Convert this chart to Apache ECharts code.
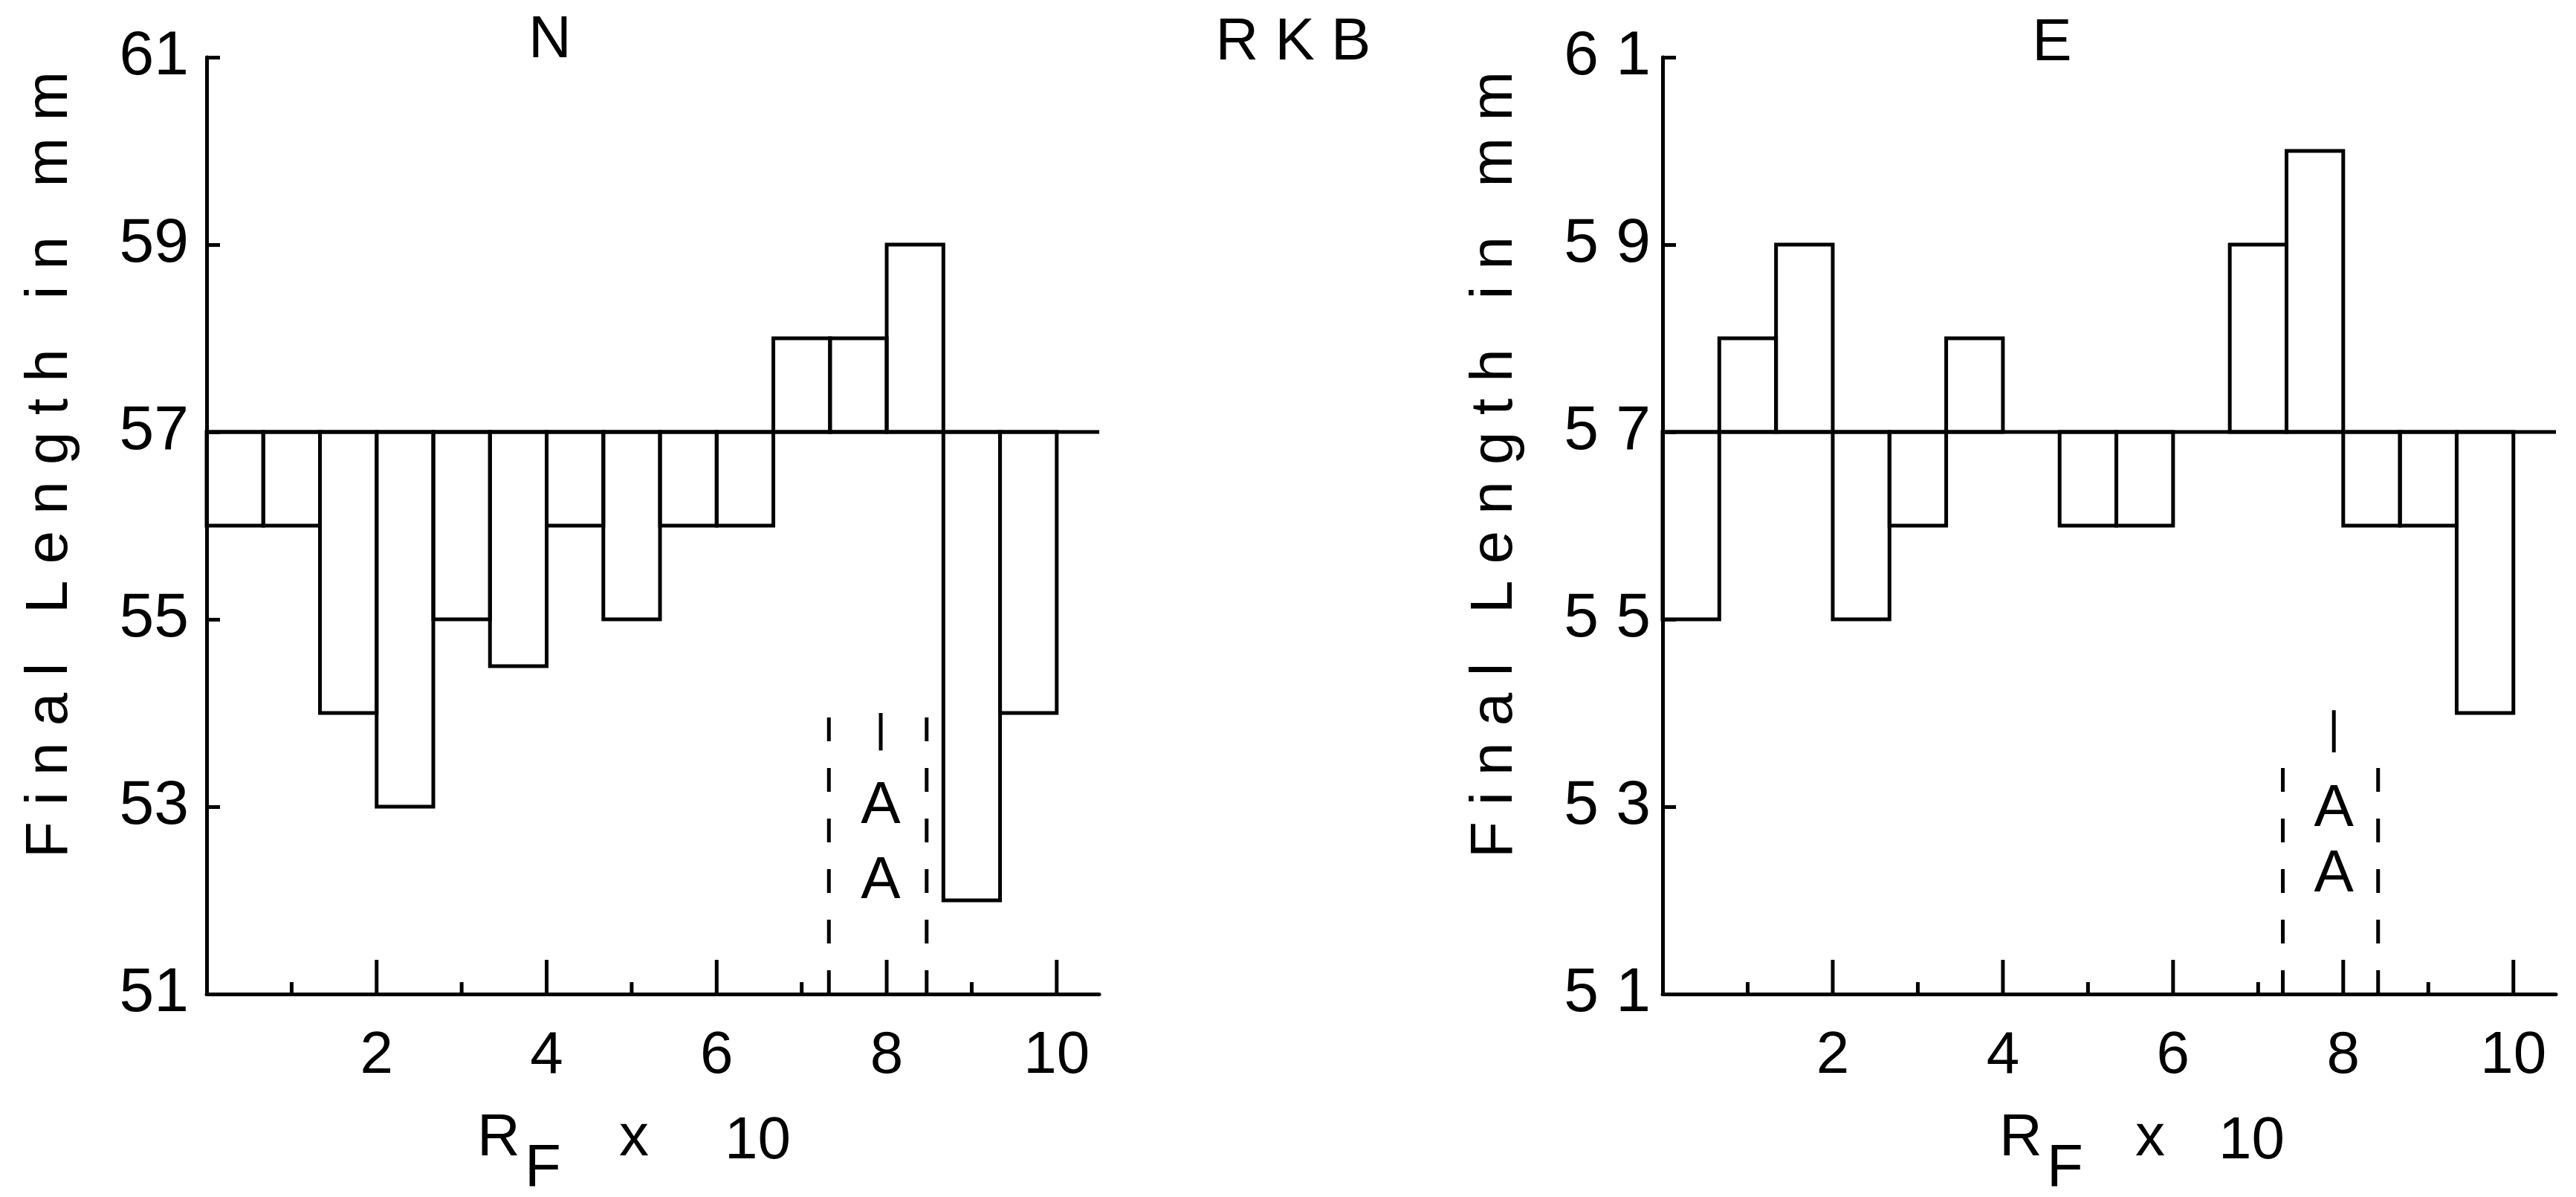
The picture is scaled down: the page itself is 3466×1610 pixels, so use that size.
<!DOCTYPE html>
<html><head><meta charset="utf-8">
<script src="https://cdn.jsdelivr.net/npm/echarts@6/dist/echarts.min.js"></script>
<style>html,body{margin:0;padding:0;background:#fff}#c{width:3466px;height:1610px}</style>
</head><body><div id="c"></div><script>
// ---- data ----
const binWidth = 2/3;
const binStarts = [0, 2/3, 4/3, 2, 8/3, 10/3, 4, 14/3, 16/3, 6, 20/3, 22/3, 8, 26/3, 28/3];
const lengthN = [56, 56, 54, 53, 55, 54.5, 56, 55, 56, 56, 58, 58, 59, 52, 54];
const lengthE = [55, 58, 59, 55, 56, 58, 57, 56, 56, 57, 59, 60, 56, 56, 54];
const controlLength = 57;
const yTicks = [51, 53, 55, 57, 59, 61];
const yLabelsN = ['51', '53', '55', '57', '59', '61'];
const yLabelsE = ['5 1', '5 3', '5 5', '5 7', '5 9', '6 1'];
const xTickValues = [1, 2, 3, 4, 5, 6, 7, 8, 9, 10];
const xLabelValues = [2, 4, 6, 8, 10];
const xLabels = ['2', '4', '6', '8', '10'];
const xMin = 0, xMax = 10.5, yMin = 51, yMax = 61;
// spot annotations (A)
const dashXN = [7.32, 8.47], dashTopN = 53.96;
const markXN = 7.93, markYN = [53.6, 54.0];
const letterYN = [53.0, 52.2];
const dashXE = [7.29, 8.41], dashTopE = 53.5;
const markXE = 7.89, markYE = [53.58, 54.03];
const letterYE = [52.97, 52.27];
const spotLetter = 'A';

const FONT = '"Liberation Sans", Arial, sans-serif';
const LW = 5;

const chart = echarts.init(document.getElementById('c'));

function histSeries(gi, values) {
  return {
    type: 'custom', xAxisIndex: gi, yAxisIndex: gi, silent: true,
    data: values.map((v, i) => [binStarts[i], binStarts[i] + binWidth, v]),
    encode: { x: [0, 1], y: 2 },
    renderItem: (params, api) => {
      const a = api.value(0), b = api.value(1), v = api.value(2);
      if (v === controlLength) return { type: 'group', children: [] };
      const p0 = api.coord([a, controlLength]);
      const p1 = api.coord([b, v]);
      return {
        type: 'rect',
        shape: { x: Math.min(p0[0], p1[0]), y: Math.min(p0[1], p1[1]),
                 width: Math.abs(p1[0] - p0[0]), height: Math.abs(p1[1] - p0[1]) },
        style: { fill: 'none', stroke: '#000', lineWidth: LW }
      };
    }
  };
}
function controlSeries(gi) {
  return { type: 'line', xAxisIndex: gi, yAxisIndex: gi, silent: true, symbol: 'none',
    data: [[xMin, controlLength], [xMax, controlLength]],
    lineStyle: { color: '#000', width: LW } };
}
function tickSeries(gi) {
  return {
    type: 'custom', xAxisIndex: gi, yAxisIndex: gi, silent: true,
    data: xTickValues.map(v => [v, yMin]), encode: { x: 0, y: 1 },
    renderItem: (params, api) => {
      const v = api.value(0);
      const p = api.coord([v, yMin]);
      const len = (v % 2 === 0) ? 46 : 16;
      return { type: 'line', shape: { x1: p[0], y1: p[1], x2: p[0], y2: p[1] - len },
               style: { stroke: '#000', lineWidth: LW } };
    }
  };
}
function spotSeries(gi, dashX, dashTop, markX, markY, letterY) {
  return {
    type: 'custom', xAxisIndex: gi, yAxisIndex: gi, silent: true,
    data: [[markX, markY[0]]], encode: { x: 0, y: 1 },
    renderItem: (params, api) => {
      const children = [];
      dashX.forEach(x => {
        const a = api.coord([x, yMin]), b = api.coord([x, dashTop]);
        children.push({ type: 'line', shape: { x1: a[0], y1: a[1], x2: b[0], y2: b[1] },
          style: { stroke: '#000', lineWidth: LW, lineDash: [32, 36] } });
      });
      const m0 = api.coord([markX, markY[0]]), m1 = api.coord([markX, markY[1]]);
      children.push({ type: 'line', shape: { x1: m0[0], y1: m0[1], x2: m1[0], y2: m1[1] },
        style: { stroke: '#000', lineWidth: LW } });
      letterY.forEach(y => {
        const p = api.coord([markX, y]);
        children.push({ type: 'text', x: p[0], y: p[1],
          style: { text: spotLetter, fill: '#000', fontSize: 80, fontFamily: FONT,
                   align: 'center', verticalAlign: 'middle' } });
      });
      return { type: 'group', children };
    }
  };
}
function xAxisDef(gi) {
  return {
    gridIndex: gi, type: 'value', min: xMin, max: xMax,
    axisLine: { show: true, onZero: false, lineStyle: { color: '#000', width: LW } },
    axisTick: { show: false }, splitLine: { show: false },
    axisLabel: { customValues: xLabelValues,
      formatter: v => xLabels[xLabelValues.indexOf(v)],
      fontSize: 80, color: '#000', margin: 44, fontFamily: FONT }
  };
}
function yAxisDef(gi, labels, margin) {
  return {
    gridIndex: gi, type: 'value', min: yMin, max: yMax,
    axisLine: { show: true, onZero: false, lineStyle: { color: '#000', width: LW } },
    axisTick: { show: true, inside: true, length: 18, customValues: yTicks.slice(1),
      lineStyle: { color: '#000', width: LW } },
    splitLine: { show: false },
    axisLabel: { customValues: yTicks, formatter: v => labels[yTicks.indexOf(v)],
      fontSize: 84, color: '#000', margin: margin, fontFamily: FONT }
  };
}
function txt(x, y, s, size, align, rot) {
  return { type: 'text', x: x, y: y, rotation: rot || 0, silent: true,
    style: { text: s, fill: '#000', fontSize: size, fontFamily: FONT,
             align: align || 'center', verticalAlign: 'middle' } };
}
const yName = 'F i n a l   L e n g t h   i n   m m';

chart.setOption({
  animation: false,
  backgroundColor: '#fff',
  textStyle: { fontFamily: FONT },
  grid: [
    { left: 278, top: 77, width: 1201, height: 1260 },
    { left: 2237, top: 77, width: 1202, height: 1260 }
  ],
  xAxis: [xAxisDef(0), xAxisDef(1)],
  yAxis: [yAxisDef(0, yLabelsN, 24), yAxisDef(1, yLabelsE, 16)],
  series: [
    controlSeries(0), histSeries(0, lengthN), tickSeries(0),
    spotSeries(0, dashXN, dashTopN, markXN, markYN, letterYN),
    controlSeries(1), histSeries(1, lengthE), tickSeries(1),
    spotSeries(1, dashXE, dashTopE, markXE, markYE, letterYE)
  ],
  graphic: [
    txt(740, 55, 'N', 80),
    txt(2761, 59, 'E', 80),
    txt(1740, 58, 'R K B', 80),
    txt(68, 625, yName, 80, 'center', Math.PI / 2),
    txt(2012, 625, yName, 80, 'center', Math.PI / 2),
    txt(642, 1532, 'R', 80, 'left'),
    txt(706, 1573, 'F', 80, 'left'),
    txt(853, 1532, 'x', 80, 'center'),
    txt(975, 1536, '10', 80, 'left'),
    txt(2690, 1532, 'R', 80, 'left'),
    txt(2754, 1573, 'F', 80, 'left'),
    txt(2893, 1532, 'x', 80, 'center'),
    txt(2985, 1536, '10', 80, 'left')
  ]
});
</script></body></html>
